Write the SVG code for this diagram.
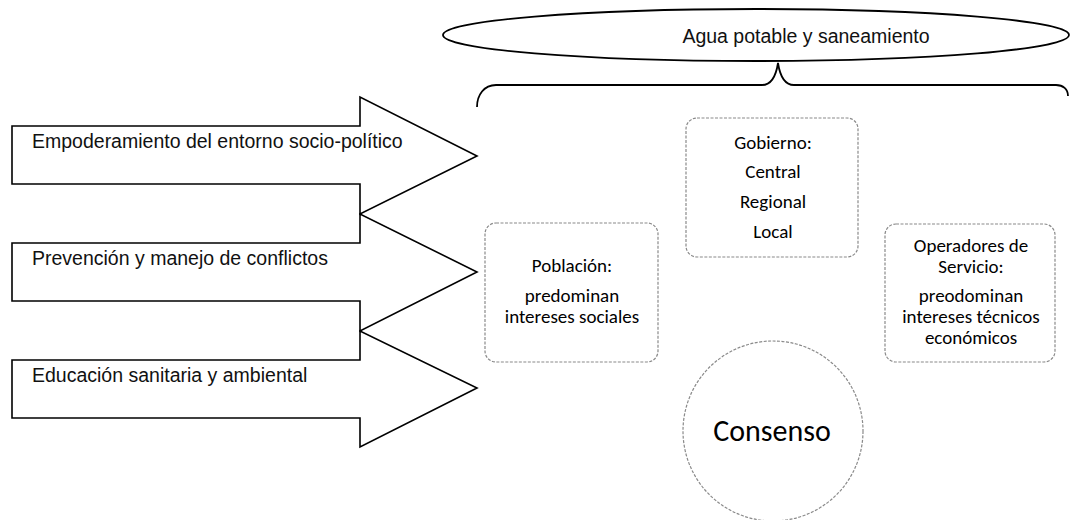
<svg xmlns="http://www.w3.org/2000/svg" width="1071" height="520" viewBox="0 0 1071 520">
<style>
.arrow{fill:#fff;stroke:#000;stroke-width:1.6;stroke-linejoin:miter}
.atxt{font-family:"Liberation Sans",Arial,sans-serif;font-size:19.5px;fill:#111}
.box{fill:#fff;stroke:#8a8a8a;stroke-width:1.2;stroke-dasharray:3 1.5}
.btxt{font-family:Carlito,Lato,"Open Sans",sans-serif;font-size:19px;fill:#000;text-anchor:middle}
.line{fill:none;stroke:#000;stroke-width:1.8}
</style>
<rect width="1071" height="520" fill="#fff"/>
<g id="arrow-empoderamiento">
<path class="arrow" d="M12,126 L360,126 L360,97 L477,156 L360,214 L360,184 L12,184 Z"/>
<text class="atxt" x="32" y="148">Empoderamiento del entorno socio-político</text>
</g>
<g id="arrow-prevencion">
<path class="arrow" d="M12,243 L360,243 L360,214 L477,272 L360,331 L360,301 L12,301 Z"/>
<text class="atxt" x="32" y="265">Prevención y manejo de conflictos</text>
</g>
<g id="arrow-educacion">
<path class="arrow" d="M12,360 L360,360 L360,331 L477,388 L360,447 L360,418 L12,418 Z"/>
<text class="atxt" x="32" y="382">Educación sanitaria y ambiental</text>
</g>
<g id="agua-potable">
<ellipse cx="756" cy="35" rx="313" ry="26" fill="#fff" stroke="#000" stroke-width="1.8"/>
<text class="atxt" x="806" y="43" text-anchor="middle">Agua potable y saneamiento</text>
</g>
<g id="connectors">
<path class="line" d="M477,107 C477,95 484,85 496,85 L762,85 C771,85 776,76 778,63 C780,76 785,85 794,85 L1056,85 C1063,85 1068,89 1068,96"/>
</g>
<g id="gobierno">
<rect class="box" x="686" y="118" width="172" height="139" rx="11"/>
<text class="btxt" x="773" y="149">Gobierno:</text>
<text class="btxt" x="773" y="178">Central</text>
<text class="btxt" x="773" y="208">Regional</text>
<text class="btxt" x="773" y="238">Local</text>
</g>
<g id="poblacion">
<rect class="box" x="485" y="223" width="173" height="139" rx="11"/>
<text class="btxt" x="572" y="272">Población:</text>
<text class="btxt" x="572" y="302">predominan</text>
<text class="btxt" x="572" y="323">intereses sociales</text>
</g>
<g id="operadores">
<rect class="box" x="885" y="224" width="170" height="138" rx="11"/>
<text class="btxt" x="971" y="252">Operadores de</text>
<text class="btxt" x="971" y="273">Servicio:</text>
<text class="btxt" x="971" y="302">preodominan</text>
<text class="btxt" x="971" y="323">intereses técnicos</text>
<text class="btxt" x="971" y="344">económicos</text>
</g>
<g id="consenso">
<circle cx="773" cy="431" r="90" fill="#fff" stroke="#8a8a8a" stroke-width="1.2" stroke-dasharray="3 1.5"/>
<text x="772" y="441" text-anchor="middle" font-family="Carlito,Lato,'Open Sans',sans-serif" font-size="30" fill="#000">Consenso</text>
</g>
</svg>
